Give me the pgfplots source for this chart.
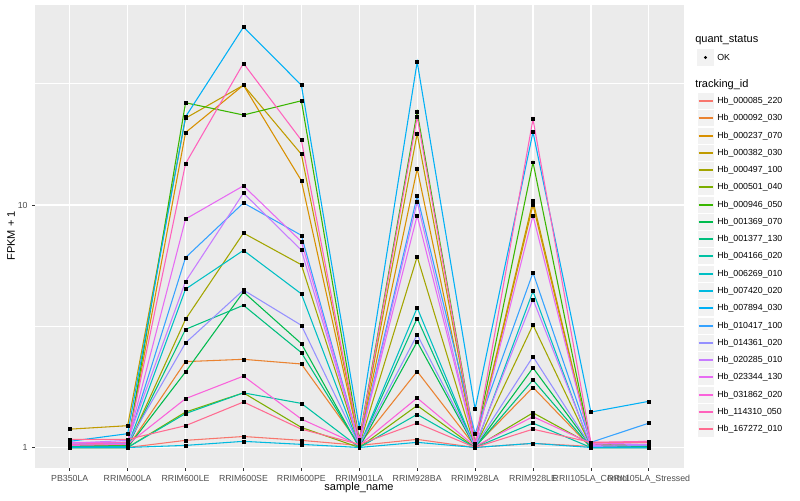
\documentclass[border=0pt]{standalone}
\usepackage{fontspec}
\setmainfont{Liberation Sans}
\usepackage{pgfplots}
\usepackage{pgfplotstable}
\pgfplotsset{compat=1.18}

\definecolor{panel}{HTML}{EBEBEB}
\definecolor{keybg}{HTML}{F2F2F2}
\definecolor{tickgrey}{HTML}{4D4D4D}
\definecolor{tickdark}{HTML}{333333}
\definecolor{c1}{HTML}{F8766D}
\definecolor{c2}{HTML}{EA8331}
\definecolor{c3}{HTML}{D89000}
\definecolor{c4}{HTML}{C09B00}
\definecolor{c5}{HTML}{A3A500}
\definecolor{c6}{HTML}{7CAE00}
\definecolor{c7}{HTML}{39B600}
\definecolor{c8}{HTML}{00BB4E}
\definecolor{c9}{HTML}{00BF7D}
\definecolor{c10}{HTML}{00C1A3}
\definecolor{c11}{HTML}{00BFC4}
\definecolor{c12}{HTML}{00BAE0}
\definecolor{c13}{HTML}{00B0F6}
\definecolor{c14}{HTML}{35A2FF}
\definecolor{c15}{HTML}{9590FF}
\definecolor{c16}{HTML}{C77CFF}
\definecolor{c17}{HTML}{E76BF3}
\definecolor{c18}{HTML}{FA62DB}
\definecolor{c19}{HTML}{FF62BC}
\definecolor{c20}{HTML}{FF6C91}

% FPKM + 1, one row per sample, one column per tracking_id
\pgfplotstableread{
x  s1   s2   s3   s4   s5   s6   s7   s8   s9   s10  s11  s12  s13  s14  s15  s16  s17  s18  s19  s20
0  1.01 1.00 1.02 1.19 1.00 1.00 1.02 1.00 1.01 1.00 1.00 1.00 1.06 1.03 1.03 1.04 1.05 1.02 1.03 1.08
1  1.00 1.00 1.03 1.23 1.01 1.00 1.02 1.00 1.01 1.00 1.01 1.00 1.14 1.05 1.04 1.07 1.05 1.03 1.05 1.08
2  1.07 2.26 19.9 22.8 3.38 1.40 26.4 2.05 3.07 1.38 4.50 1.02 23.1 6.07 2.70 4.84 8.75 1.59 14.8 1.23
3  1.11 2.31 31.2 31.2 7.66 1.68 23.5 4.38 3.86 1.68 6.50 1.06 54.2 10.2 4.46 11.2 12.0 1.97 38.4 1.54
4  1.07 2.21 12.6 16.2 5.67 1.21 26.9 2.68 2.46 1.52 4.30 1.03 31.2 7.50 3.19 6.51 7.06 1.31 18.5 1.19
5  1.02 1.03 1.05 1.06 1.02 1.00 1.08 1.00 1.01 1.00 1.01 1.00 1.21 1.04 1.02 1.03 1.04 1.02 1.07 1.03
6  1.08 2.06 14.1 19.7 6.12 1.49 24.2 2.73 3.41 1.37 3.77 1.05 38.9 10.9 2.92 10.3 9.04 1.60 23.1 1.26
7  1.00 1.01 1.02 1.03 1.00 1.00 1.04 1.00 1.00 1.00 1.00 1.00 1.44 1.14 1.01 1.02 1.02 1.01 1.03 1.00
8  1.04 1.77 10.0 10.4 3.20 1.39 15.0 2.13 1.90 1.26 4.41 1.04 20.0 5.26 2.37 4.08 9.04 1.34 22.6 1.19
9  1.01 1.00 1.02 1.03 1.01 1.03 1.02 1.01 1.00 1.00 1.00 1.00 1.40 1.05 1.01 1.02 1.03 1.04 1.05 1.05
10 1.00 1.00 1.02 1.03 1.01 1.02 1.02 1.01 1.00 1.00 1.00 1.00 1.55 1.26 1.02 1.03 1.05 1.06 1.06 1.05
}\fpkm

\begin{document}
\begin{tikzpicture}
\useasboundingbox (0,0) rectangle (600pt,375pt);
\begin{axis}[
  at={(26.25pt,371.25pt)}, anchor=north west,
  scale only axis, width=486.4pt, height=347.25pt,
  xmin=-0.6, xmax=10.6,
  ymode=log, ymin=0.823, ymax=66.8,
  axis background/.style={fill=panel},
  axis line style={draw=none},
  xtick={0,...,10},
  xticklabels={PB350LA,RRIM600LA,RRIM600LE,RRIM600SE,RRIM600PE,RRIM901LA,RRIM928BA,RRIM928LA,RRIM928LE,RRII105LA\_Control,RRII105LA\_Stressed},
  ytick={1,10}, yticklabels={1,10},
  minor ytick={3.1623,31.623},
  grid=both,
  major grid style={white, line width=1pt},
  minor grid style={white, line width=0.5pt},
  tick align=outside, tick pos=left,
  major tick length=2.06pt, minor tick length=0pt,
  tick style={color=tickdark, line width=0.5pt},
  ticklabel style={font=\fontsize{6.6}{7}\selectfont, text=tickgrey},
]
\pgfplotsinvokeforeach{1,...,20}{
  \addplot[draw=c#1, line width=0.8pt, no markers] table[x=x, y=s#1] {\fpkm};
}
\pgfplotsinvokeforeach{1,...,20}{
  \addplot[only marks, mark=square*, mark size=1.1pt, black] table[x=x, y=s#1] {\fpkm};
}
\end{axis}

\begin{scope}[shift={(0pt,375pt)}, x=0.75pt, y=-0.75pt]
  \node[rotate=90, font=\fontsize{8.25}{9}\selectfont] at (11,236) {FPKM + 1};
  \node[font=\fontsize{8.25}{9}\selectfont] at (359,488) {sample\_name};
  % legend
  \node[anchor=west, inner sep=0, font=\fontsize{8.25}{9}\selectfont] at (695,40.5) {quant\_status};
  \fill[keybg] (697,49) rectangle (714,66);
  \fill[black] (705.5,57.5) circle (1.6);
  \node[anchor=west, inner sep=0, font=\fontsize{6.6}{7}\selectfont] at (717,57.5) {OK};
  \node[anchor=west, inner sep=0, font=\fontsize{8.25}{9}\selectfont] at (695,84.5) {tracking\_id};
  \foreach \i/\name in {1/Hb\_000085\_220,2/Hb\_000092\_030,3/Hb\_000237\_070,4/Hb\_000382\_030,
      5/Hb\_000497\_100,6/Hb\_000501\_040,7/Hb\_000946\_050,8/Hb\_001369\_070,9/Hb\_001377\_130,
      10/Hb\_004166\_020,11/Hb\_006269\_010,12/Hb\_007420\_020,13/Hb\_007894\_030,14/Hb\_010417\_100,
      15/Hb\_014361\_020,16/Hb\_020285\_010,17/Hb\_023344\_130,18/Hb\_031862\_020,19/Hb\_114310\_050,
      20/Hb\_167272\_010}{
    \pgfmathsetmacro{\yc}{round(101+(\i-1)*17.27)}
    \fill[keybg, draw=white, line width=0.5pt] (697,\yc-8.6) rectangle (714,\yc+8.6);
    \draw[draw=c\i, line width=1.1pt] (698.5,\yc) -- (712.5,\yc);
    \node[anchor=west, inner sep=0, font=\fontsize{6.6}{7}\selectfont] at (717,\yc) {\name};
  }
\end{scope}
\end{tikzpicture}
\end{document}
